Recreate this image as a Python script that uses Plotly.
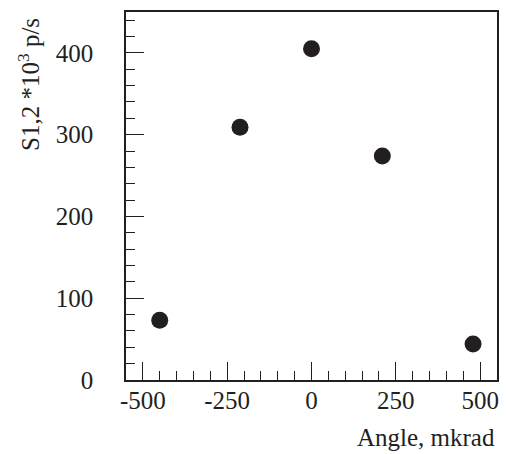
import plotly.graph_objects as go

# data
angle = [-450, -212, 0, 210, 479]
rate = [73, 309, 405, 274, 44]

xtick_vals = [-500, -250, 0, 250, 500]
xtick_text = ['-500', '-250', '0', '250', '500']
ytick_vals = [0, 100, 200, 300, 400]
ytick_text = ['0', '100', '200', '300', '400']

FONT = 'Liberation Serif'
INK = '#231f20'

fig = go.Figure()
fig.add_trace(go.Scatter(
    x=angle, y=rate,
    mode='markers',
    marker=dict(size=17, color=INK),
    showlegend=False,
))

# page body has an 8px margin, so the figure is 8px smaller than the window
fig.update_layout(
    width=500, height=446,
    margin=dict(l=118, r=11, t=2, b=74),
    paper_bgcolor='white', plot_bgcolor='white',
    font=dict(family=FONT, size=25, color=INK),
    xaxis=dict(
        range=[-550, 550],
        tickvals=xtick_vals, ticktext=xtick_text,
        ticks='inside', ticklen=18, tickwidth=1.3, tickcolor=INK,
        minor=dict(dtick=50, tick0=0, ticks='inside', ticklen=9, tickwidth=1, tickcolor=INK),
        showline=True, linecolor=INK, linewidth=1.5, mirror=True,
        showgrid=False, zeroline=False,
        ticklabelstandoff=-3,
    ),
    yaxis=dict(
        range=[0, 450],
        tickvals=ytick_vals, ticktext=ytick_text,
        ticks='inside', ticklen=18, tickwidth=1.3, tickcolor=INK,
        minor=dict(dtick=20, tick0=0, ticks='inside', ticklen=9, tickwidth=1, tickcolor=INK),
        showline=True, linecolor=INK, linewidth=1.5, mirror=True,
        showgrid=False, zeroline=False,
        ticklabelstandoff=26,
    ),
    annotations=[
        dict(text='Angle, mkrad', xref='paper', yref='paper', x=1.0, y=-0.157,
             xanchor='right', yanchor='middle', showarrow=False,
             font=dict(family=FONT, size=25, color=INK)),
        dict(text='S1,2 *10<sup>3</sup> p/s', xref='paper', yref='paper', x=-0.262, y=0.99,
             xanchor='center', yanchor='top', textangle=-90, showarrow=False,
             font=dict(family=FONT, size=25, color=INK)),
    ],
)

fig.write_html('out.html')
